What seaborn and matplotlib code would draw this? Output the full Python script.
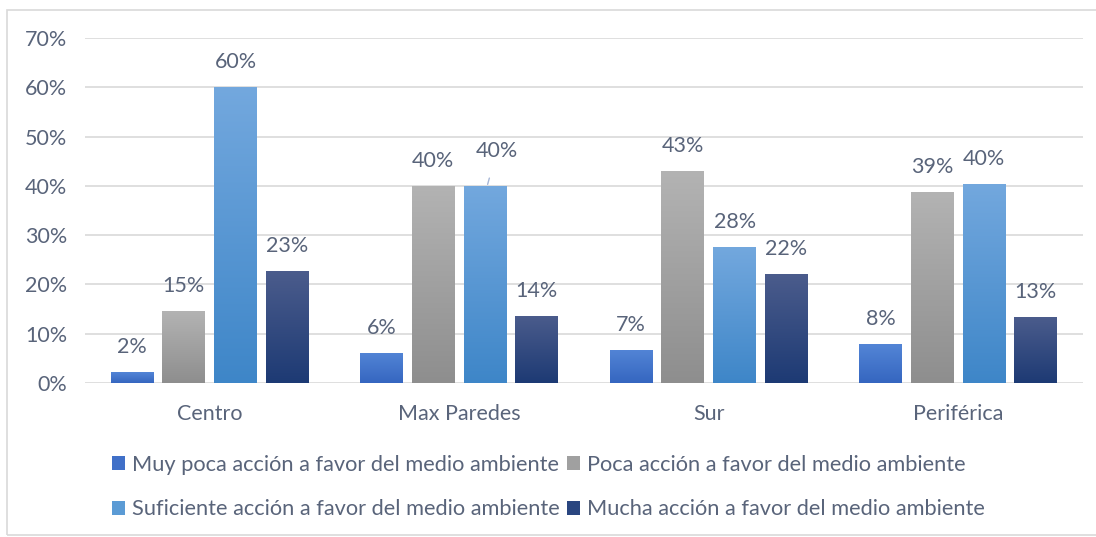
import numpy as np
import pandas as pd
import matplotlib
matplotlib.use("Agg")
import matplotlib.pyplot as plt
from matplotlib.colors import LinearSegmentedColormap
from matplotlib.patches import Patch, Rectangle
import seaborn as sns

categories = ["Centro", "Max Paredes", "Sur", "Periférica"]
series = ["Muy poca acción a favor del medio ambiente",
          "Poca acción a favor del medio ambiente",
          "Suficiente acción a favor del medio ambiente",
          "Mucha acción a favor del medio ambiente"]
muy_poca = [2.2, 6.1, 6.7, 7.9]
poca = [14.6, 40.0, 43.0, 38.7]
suficiente = [60.0, 40.0, 27.5, 40.4]
mucha = [22.7, 13.6, 22.1, 13.3]
yticks = [0, 10, 20, 30, 40, 50, 60, 70]

top_colors = ["#5385d6", "#b3b3b3", "#73a8de", "#4b5c8c"]
bottom_colors = ["#3566c0", "#8e8e8e", "#3e86c8", "#1d3a74"]
legend_colors = ["#4070c8", "#a0a0a0", "#5b9bd5", "#2a4680"]
text_color = "#59647a"
FS = 15.5
LFS = 15.7

values = [muy_poca, poca, suficiente, mucha]
df = pd.DataFrame({
    "cat": [c for s in series for c in categories],
    "serie": [s for s in series for c in categories],
    "val": [v for vals in values for v in vals],
})

sns.set_theme(style="white")
plt.rcParams["font.family"] = ["Lato", "DejaVu Sans"]

fig = plt.figure(figsize=(10.96, 5.37), dpi=100)
fig.patches.append(Rectangle((7 / 1096, 0.003), 1.2, 1 - 10 / 537 - 0.003,
                             transform=fig.transFigure, fill=False,
                             edgecolor="#d9d9d9", lw=1.2))
ax = fig.add_axes([85 / 1096, 1 - 383 / 537, (1083 - 85) / 1096, (383 - 38) / 537])

sns.barplot(data=df, x="cat", y="val", hue="serie", order=categories,
            hue_order=series, ax=ax, width=0.83, gap=0.17, legend=False,
            palette=legend_colors, errorbar=None, zorder=3)

for i, cont in enumerate(ax.containers):
    cmap = LinearSegmentedColormap.from_list(f"g{i}", [bottom_colors[i], top_colors[i]])
    for bar in cont:
        x0 = bar.get_x(); w = bar.get_width(); h = bar.get_height()
        grad = np.linspace(0, 1, 256).reshape(-1, 1)
        im = ax.imshow(grad, extent=[x0, x0 + w, 0, h], origin="lower",
                       aspect="auto", cmap=cmap, zorder=3)
        im.set_clip_path(bar)
        bar.set_facecolor("none")
        bar.set_edgecolor("none")

ax.set_xlim(-0.5, 3.5)
ax.set_ylim(0, 70)
ax.set_yticks(yticks)
ax.set_yticklabels([f"{t}%" for t in yticks])
ax.grid(axis="y", color="#d9d9d9", lw=1.2, zorder=0)
ax.set_axisbelow(True)
for s in ax.spines.values():
    s.set_visible(False)
ax.tick_params(axis="y", length=0, pad=13, labelsize=FS, colors=text_color)
ax.tick_params(axis="x", length=0, pad=15, labelsize=FS, colors=text_color)
ax.set_xlabel("")
ax.set_ylabel("")

for i, cont in enumerate(ax.containers):
    for j, bar in enumerate(cont):
        v = values[i][j]
        xc = bar.get_x() + bar.get_width() / 2
        h = bar.get_height()
        if i == 2 and j == 1:
            ax.annotate(f"{v:.0f}%", xy=(xc + 0.01, h + 0.3), xytext=(9, 33),
                        textcoords="offset pixels", ha="center", va="center",
                        fontsize=FS, color=text_color,
                        arrowprops=dict(arrowstyle="-", color="#a6b6d6", lw=1,
                                        shrinkA=10, shrinkB=0))
        else:
            ax.annotate(f"{v:.0f}%", xy=(xc, h), xytext=(0, 25),
                        textcoords="offset pixels", ha="center", va="center",
                        fontsize=FS, color=text_color)

handles = [Patch(facecolor=legend_colors[k], edgecolor="none") for k in range(4)]
order = [0, 2, 1, 3]
fig.legend([handles[k] for k in order], [series[k] for k in order],
           ncol=2, loc="upper left", bbox_to_anchor=(112 / 1096, 1 - 455 / 537),
           frameon=False, fontsize=LFS, labelcolor=text_color,
           handlelength=0.6, handleheight=0.6, handletextpad=0.3,
           columnspacing=0.35, labelspacing=1.12, borderaxespad=0, borderpad=0)

fig.savefig("out.png", dpi=100)
